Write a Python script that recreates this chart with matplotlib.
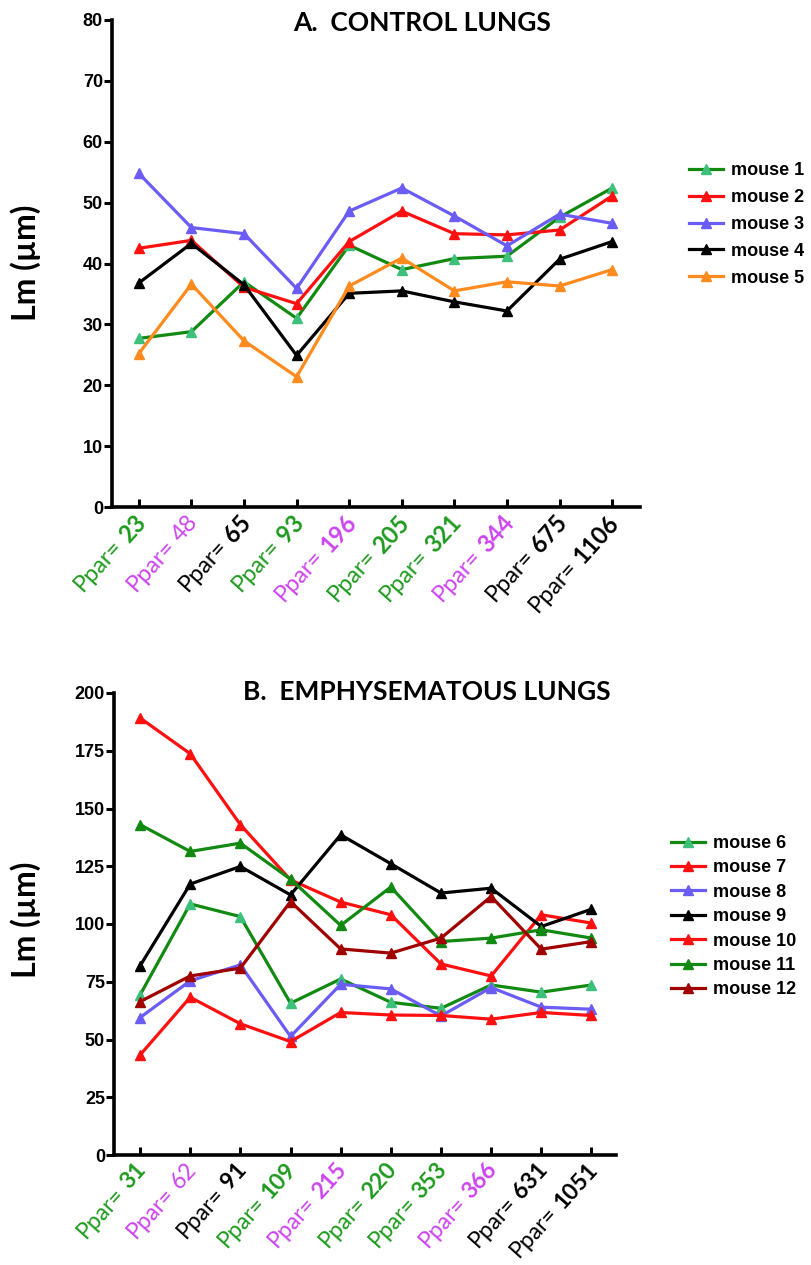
import math
import matplotlib
matplotlib.use("Agg")
import matplotlib.pyplot as plt
from matplotlib.font_manager import FontProperties
from matplotlib.textpath import TextToPath

# panel A data
ppar_a = ["23", "48", "65", "93", "196", "205", "321", "344", "675", "1106"]
mouse1 = [27.7, 28.8, 37.0, 31.0, 43.0, 39.0, 40.8, 41.2, 47.6, 52.4]
mouse2 = [42.5, 43.8, 36.1, 33.4, 43.6, 48.6, 44.9, 44.7, 45.5, 51.1]
mouse3 = [54.8, 45.9, 44.9, 35.9, 48.6, 52.4, 47.8, 42.9, 48.1, 46.6]
mouse4 = [36.8, 43.3, 36.5, 24.9, 35.1, 35.5, 33.7, 32.2, 40.7, 43.6]
mouse5 = [25.2, 36.6, 27.3, 21.4, 36.3, 40.9, 35.5, 37.0, 36.3, 39.0]

# panel B data
ppar_b = ["31", "62", "91", "109", "215", "220", "353", "366", "631", "1051"]
mouse6 = [69.3, 108.7, 103.2, 65.7, 76.2, 66.1, 63.5, 73.6, 70.5, 73.6]
mouse7 = [189.2, 173.7, 143.0, 119.1, 109.5, 104.0, 82.7, 77.5, 104.0, 100.4]
mouse8 = [59.5, 75.4, 82.3, 51.3, 73.9, 71.9, 60.2, 72.5, 64.0, 63.1]
mouse9 = [81.9, 117.3, 124.9, 112.6, 138.6, 126.1, 113.4, 115.5, 98.9, 106.4]
mouse10 = [43.3, 68.3, 56.8, 49.1, 61.7, 60.6, 60.4, 58.8, 61.7, 60.4]
mouse11 = [143.0, 131.4, 135.0, 119.4, 99.4, 116.0, 92.4, 93.9, 97.5, 93.9]
mouse12 = [66.4, 77.5, 80.9, 109.7, 89.2, 87.4, 93.9, 111.9, 89.1, 92.4]

# label colours (green / magenta / black) and which number is not bold
label_colors = ["#1e9a1e", "#cc44ee", "black", "#1e9a1e", "#cc44ee",
                "#1e9a1e", "#1e9a1e", "#cc44ee", "black", "black"]
plain_number = [False, True, False, False, False, False, False, False, False, False]

series_a = [
    ("mouse 1", mouse1, "#128a12", "#3cc07a"),
    ("mouse 2", mouse2, "#ff1010", "#ff1010"),
    ("mouse 3", mouse3, "#6a5cf5", "#6a5cf5"),
    ("mouse 4", mouse4, "black", "black"),
    ("mouse 5", mouse5, "#ff8a1e", "#ff8a1e"),
]
series_b = [
    ("mouse 6", mouse6, "#128a12", "#3cc07a"),
    ("mouse 7", mouse7, "#ff1010", "#ff1010"),
    ("mouse 8", mouse8, "#6a5cf5", "#6a5cf5"),
    ("mouse 9", mouse9, "black", "black"),
    ("mouse 10", mouse10, "#ff1010", "#ff1010"),
    ("mouse 11", mouse11, "#128a12", "#128a12"),
    ("mouse 12", mouse12, "#a00000", "#a00000"),
]

W, H = 811, 1265
fig = plt.figure(figsize=(W / 100, H / 100), dpi=100)
ttp = TextToPath()


def fx(px):
    return px / W


def fy(py):
    return 1 - py / H


def ppar_labels(ax, ppar, rot=48, size=17):
    # "Ppar=" in regular weight, the number (mostly) bold, both rotated
    ca, sa = math.cos(math.radians(rot)), math.sin(math.radians(rot))
    base = (-4, -3)
    for i, p in enumerate(ppar):
        fp_reg = FontProperties(family="Lato", style="normal", weight="normal", size=size)
        fp_num = FontProperties(family="Lato", style="normal",
                                weight="normal" if plain_number[i] else "bold", size=size)
        w_num = ttp.get_text_width_height_descent(p, fp_num, ismath=False)[0]
        shift = w_num + 0.24 * size
        kw = dict(xy=(i, 0), xycoords=("data", "axes fraction"), textcoords="offset points",
                  rotation=rot, ha="right", va="top", rotation_mode="anchor",
                  color=label_colors[i], annotation_clip=False)
        ax.annotate(p, xytext=base, fontproperties=fp_num, **kw)
        ax.annotate("Ppar=", xytext=(base[0] - shift * ca, base[1] - shift * sa),
                    fontproperties=fp_reg, **kw)


def draw_panel(rect, series, ppar, ymax, ystep, xlim, title, title_xy, ylabel_y,
               leg_xy, leg_space, lab_size):
    ax = fig.add_axes(rect)
    x = list(range(len(ppar)))
    for name, vals, lc, mc in series:
        ax.plot(x, vals, color=lc, lw=2.3, marker="^", ms=6.5,
                mfc=mc, mec=mc, label=name)
    ax.set_xlim(*xlim)
    ax.set_ylim(0, ymax)
    ax.set_yticks(range(0, ymax + 1, ystep))
    ax.set_xticks(x)
    ax.set_xticklabels([])
    ppar_labels(ax, ppar, size=lab_size)
    for t in ax.get_yticklabels():
        t.set_fontweight("bold")
        t.set_family("Liberation Sans")
        t.set_fontsize(13)
    ax.tick_params(axis="x", direction="in", length=6, width=2.2)
    ax.tick_params(axis="y", direction="out", length=6, width=2.2, pad=0.5)
    for s in ["top", "right"]:
        ax.spines[s].set_visible(False)
    for s in ["left", "bottom"]:
        ax.spines[s].set_linewidth(2.6)
    fig.text(fx(title_xy[0]), fy(title_xy[1]), title, ha="center", va="center",
             fontsize=19, fontweight="bold", family="Lato")
    fig.text(fx(26), fy(ylabel_y), "Lm (µm)", rotation=90, ha="center", va="center",
             fontsize=23, fontweight="bold", family="Lato")
    fig.legend(*ax.get_legend_handles_labels(), loc="upper left",
               bbox_to_anchor=(fx(leg_xy[0]), fy(leg_xy[1])), frameon=False,
               borderpad=0, borderaxespad=0, handlelength=1.9, handletextpad=0.4,
               labelspacing=leg_space,
               prop={"family": "Liberation Sans", "weight": "bold", "size": 13})
    return ax


draw_panel([fx(112), fy(507), fx(640) - fx(112), fy(20) - fy(507)],
           series_a, ppar_a, 80, 10, (-0.51, 9.53), "A.  CONTROL LUNGS", (422, 23), 263,
           (689, 162), 0.55, 17)
draw_panel([fx(114), fy(1155), fx(616) - fx(114), fy(693) - fy(1155)],
           series_b, ppar_b, 200, 25, (-0.52, 9.49), "B.  EMPHYSEMATOUS LUNGS", (427, 692), 920,
           (671, 835), 0.41, 16.5)

fig.savefig("out.png", dpi=100)
